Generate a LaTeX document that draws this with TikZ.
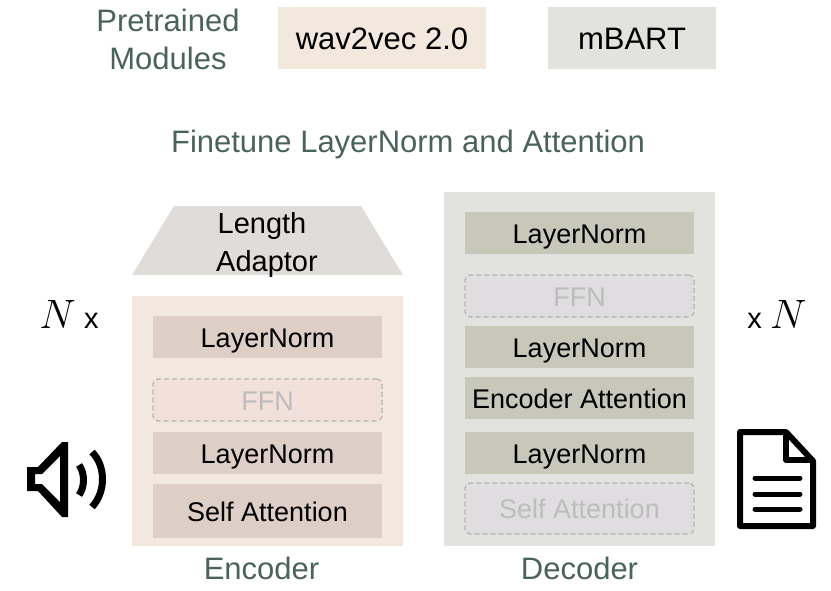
\documentclass[tikz,border=0pt]{standalone}
\usepackage{amsmath}
\usepackage{graphicx}
\usepackage{fontspec}
\setmainfont{Liberation Sans}
\usepackage{xcolor}
\usetikzlibrary{positioning}
\definecolor{capgreen}{HTML}{4A6358}
\definecolor{encbg}{HTML}{F2E8DE}
\definecolor{encbox}{HTML}{DDCEC6}
\definecolor{encoff}{HTML}{F2E1DA}
\definecolor{decbg}{HTML}{E2E3DE}
\definecolor{decbox}{HTML}{C7C7BA}
\definecolor{decoff}{HTML}{DFDDDF}
\definecolor{adaptfill}{HTML}{DFDCDA}
\definecolor{offtext}{HTML}{BDBDBD}
\definecolor{offline}{HTML}{B4B4B4}

\begin{document}
\begin{tikzpicture}[x=1pt, y=-1pt, node distance=10pt,
  every node/.style={inner sep=0pt, outer sep=0pt, font=\fontsize{27}{38}\selectfont},
  caption/.style={text=capgreen, align=center, font=\fontsize{31}{38}\selectfont},
  legendbox/.style={minimum height=62pt, text height=22pt, text depth=0pt, font=\fontsize{31}{38}\selectfont},
  panel/.style={anchor=north west, minimum width=271pt},
  layerbox/.style={minimum width=229pt, minimum height=42pt, text height=20pt, text depth=0pt},
  offbox/.style={layerbox, draw=offline, line width=1.2pt, dash pattern=on 5pt off 3pt, rounded corners=5pt, text=offtext},
  icon/.style={line width=6pt, line join=round}]
  \useasboundingbox (0,0) rectangle (831,590);
  % top row
  \node[caption](pretrained) at (168,39){Pretrained\\Modules};
  \node[legendbox, fill=encbg, minimum width=208pt](wav) at (382,38){wav2vec 2.0};
  \node[legendbox, fill=decbg, minimum width=168pt](mbart) at (632,38){mBART};
  \node[caption](finetune) at (408,144){Finetune LayerNorm and Attention};
  % encoder side
  \fill[adaptfill] (174,206)--(361,206)--(403,275)--(132,275)--cycle;
  \node[align=center, font=\fontsize{29}{38}\selectfont](adaptor) at (267,244.5){Length\hspace*{10pt}\\Adaptor};
  \node[panel, fill=encbg, minimum height=250pt](encpanel) at (132,296){};
  \node[layerbox, fill=encbox](e1) at (267.5,337){LayerNorm};
  \node[offbox, fill=encoff, below=21pt of e1](e2){FFN};
  \node[layerbox, fill=encbox, below=11pt of e2](e3){LayerNorm};
  \node[layerbox, fill=encbox, minimum height=54pt, below=10pt of e3](e4){Self Attention};
  \node[caption, below=11pt of encpanel, xshift=-6pt](enclabel){Encoder};
  % decoder side
  \node[panel, fill=decbg, minimum height=354pt](decpanel) at (444,192){};
  \node[layerbox, fill=decbox](d1) at (579.5,233){LayerNorm};
  \node[offbox, fill=decoff, below=21pt of d1](d2){FFN};
  \node[layerbox, fill=decbox, below=9pt of d2](d3){LayerNorm};
  \node[layerbox, fill=decbox, below=9pt of d3](d4){Encoder Attention};
  \node[layerbox, fill=decbox, below=13pt of d4](d5){LayerNorm};
  \node[offbox, fill=decoff, minimum height=51pt, below=9pt of d5](d6){Self Attention};
  \node[caption, below=11pt of decpanel](declabel){Decoder};
  % repeat marks
  \node[anchor=base, font=\fontsize{29}{38}\selectfont](leftn) at (69,328){\scalebox{1.65}{$N$} x};
  \node[anchor=base, font=\fontsize{29}{38}\selectfont](rightn) at (777,328){x \scalebox{1.65}{$N$}};
  % speaker
  \fill[even odd rule] (27,467)--(38,467)--(62,442)--(68,442)--(68,517)--(62,517)--(38,491)--(27,491)--cycle
    (35,474)--(42,474)--(60,456)--(60,502)--(42,484)--(35,484)--cycle;
  \draw[icon, line width=7pt] (79,465) .. controls (85,473) and (85,487) .. (79,495);
  \draw[icon, line width=7pt] (92,452) .. controls (106,466) and (106,492) .. (92,507);
  % document
  \draw[icon] (740,432)--(786,432)--(813,461)--(813,526)--(740,526)--cycle;
  \draw[icon] (786,432)--(786,460)--(813,460);
  \foreach \y in {478,494,509}{\draw[line width=5pt, line cap=round](755,\y)--(800,\y);}
\end{tikzpicture}
\end{document}
